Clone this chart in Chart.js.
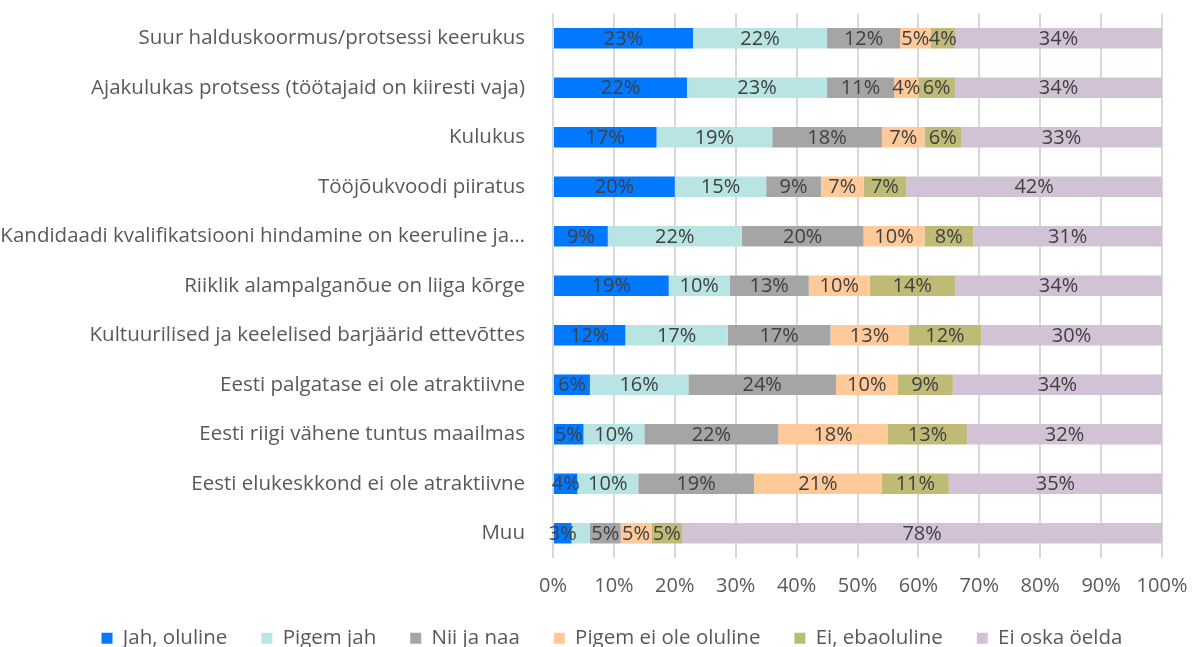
<!DOCTYPE html>
<html>
<head>
<meta charset="utf-8">
<script src="https://cdn.jsdelivr.net/npm/chart.js@4/dist/chart.umd.min.js"></script>
<style>
body{margin:0;background:#fff;}
#wrap{width:1192px;height:647px;}
</style>
</head>
<body>
<div id="wrap"><canvas id="chart" width="1192" height="647"></canvas></div>
<script>

/* DATA */

let categories = [
"Suur halduskoormus/protsessi keerukus",
"Ajakulukas protsess (töötajaid on kiiresti vaja)",
"Kulukus",
"Tööjõukvoodi piiratus",
"Kandidaadi kvalifikatsiooni hindamine on keeruline ja…",
"Riiklik alampalganõue on liiga kõrge",
"Kultuurilised ja keelelised barjäärid ettevõttes",
"Eesti palgatase ei ole atraktiivne",
"Eesti riigi vähene tuntus maailmas",
"Eesti elukeskkond ei ole atraktiivne",
"Muu"
];

let seriesNames = ["Jah, oluline","Pigem jah","Nii ja naa","Pigem ei ole oluline","Ei, ebaoluline","Ei oska öelda"];

let jahOluline    = [23,22,17,20, 9,19,12, 6, 5, 4, 3];
let pigemJah      = [22,23,19,15,22,10,17,16,10,10, 3];
let niiJaNaa      = [12,11,18, 9,20,13,17,24,22,19, 5];
let pigemEiOle    = [ 5, 4, 7, 7,10,10,13,10,18,21, 5];
let eiEbaoluline  = [ 4, 6, 6, 7, 8,14,12, 9,13,11, 5];
let eiOskaOelda   = [34,34,33,42,31,34,30,34,32,35,78];

// labels that are not shown in the picture
let hiddenLabels = {"1-10":true};

let xTicks = [0,10,20,30,40,50,60,70,80,90,100];

let colors = ["#0078FF","#B9E4E4","#A5A5A5","#FFC999","#BFBB77","#D1C3D5"];

let FONT = "'Open Sans'";


/* LABEL PLUGIN */

const barLabels = {
id:"barLabels",
afterDatasetsDraw(chart){
let ctx = chart.ctx;
ctx.save();
ctx.font = "20px " + FONT;
ctx.fillStyle = "#404040";
ctx.textAlign = "center";
ctx.textBaseline = "middle";
chart.data.datasets.forEach((ds,di)=>{
let meta = chart.getDatasetMeta(di);
meta.data.forEach((el,i)=>{
if(hiddenLabels[di+"-"+i]) return;
let v = ds.raw[i];
let cx = (el.x + el.base)/2;
ctx.fillText(v + "%", cx, el.y + 1);
});
});
ctx.restore();
}
};

// legend sits a bit right of centre in the original
const legendShift = {
id:"legendShift",
afterLayout(chart){
chart.legend.left += 16;
chart.legend.right += 16;
}
};


/* CHART */

let all = [jahOluline,pigemJah,niiJaNaa,pigemEiOle,eiEbaoluline,eiOskaOelda];

// 100% stacked: each row is scaled to its own total
let rowSums = categories.map((c,i)=>all.reduce((s,arr)=>s+arr[i],0));

let datasets = all.map((arr,i)=>({
label:seriesNames[i],
raw:arr,
data:arr.map((v,j)=>v/rowSums[j]*100),
backgroundColor:colors[i],
borderWidth:0,
barPercentage:0.41,
categoryPercentage:1
}));

new Chart(document.getElementById("chart"),{
type:"bar",
data:{labels:categories, datasets:datasets},
plugins:[barLabels,legendShift],
options:{
indexAxis:"y",
responsive:false,
animation:false,
layout:{padding:{top:13.5,right:0,left:0,bottom:-11.5}},
scales:{
x:{
stacked:true,
min:0,max:100,
afterBuildTicks(s){ s.ticks = xTicks.map(v=>({value:v})); },
afterFit(s){ s.height = 36; s.paddingRight = 30; },
ticks:{
callback:v=>v+"%",
color:"#595959",
font:{family:"Open Sans",size:20},
padding:16,
maxRotation:0
},
grid:{color:"#D9D9D9",lineWidth:2,drawTicks:false},
border:{display:false}
},
y:{
stacked:true,
afterFit(s){ s.width = 553; s.paddingTop = 0; s.paddingBottom = 0; },
ticks:{
color:"#595959",
font:{family:"Open Sans",size:20.5},
padding:20,
autoSkip:false
},
grid:{display:false},
border:{display:false}
}
},
plugins:{
legend:{
position:"bottom",
labels:{
boxWidth:11,
boxHeight:11,
color:"#595959",
font:{family:"Open Sans",size:20.5},
padding:34
}
},
tooltip:{enabled:false}
}
}
});

</script>
</body>
</html>
